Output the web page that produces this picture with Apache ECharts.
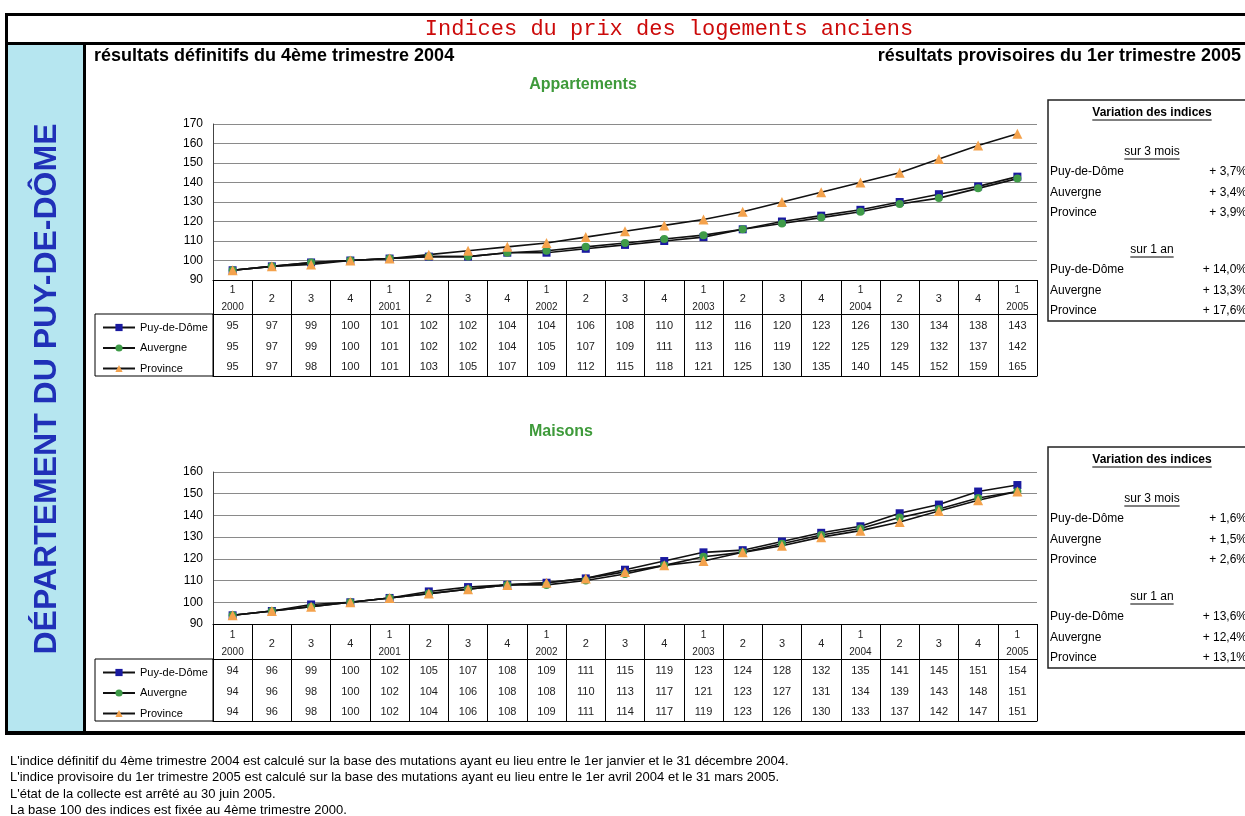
<!DOCTYPE html>
<html>
<head>
<meta charset="utf-8">
<script src="https://cdn.jsdelivr.net/npm/echarts@6/dist/echarts.min.js"></script>
<style>
  html, body { margin: 0; background: #fff; }
  #chart { width: 1245px; height: 816px; }
</style>
</head>
<body>
<div id="chart"></div>
<script>
// trimestres 2000 T1 -> 2005 T1
const periods = ['2000-1', '2000-2', '2000-3', '2000-4', '2001-1', '2001-2', '2001-3', '2001-4',
  '2002-1', '2002-2', '2002-3', '2002-4', '2003-1', '2003-2', '2003-3', '2003-4',
  '2004-1', '2004-2', '2004-3', '2004-4', '2005-1'];
const quarterNums = ['1', '2', '3', '4', '1', '2', '3', '4', '1', '2', '3', '4', '1', '2', '3', '4', '1', '2', '3', '4', '1'];
const yearLabels = ['2000', '', '', '', '2001', '', '', '', '2002', '', '', '', '2003', '', '', '', '2004', '', '', '', '2005'];

const names = ['Puy-de-Dôme', 'Auvergne', 'Province'];

// Appartements
const aptPuy = [95, 97, 99, 100, 101, 102, 102, 104, 104, 106, 108, 110, 112, 116, 120, 123, 126, 130, 134, 138, 143];
const aptAuv = [95, 97, 99, 100, 101, 102, 102, 104, 105, 107, 109, 111, 113, 116, 119, 122, 125, 129, 132, 137, 142];
const aptProv = [95, 97, 98, 100, 101, 103, 105, 107, 109, 112, 115, 118, 121, 125, 130, 135, 140, 145, 152, 159, 165];

// Maisons
const maiPuy = [94, 96, 99, 100, 102, 105, 107, 108, 109, 111, 115, 119, 123, 124, 128, 132, 135, 141, 145, 151, 154];
const maiAuv = [94, 96, 98, 100, 102, 104, 106, 108, 108, 110, 113, 117, 121, 123, 127, 131, 134, 139, 143, 148, 151];
const maiProv = [94, 96, 98, 100, 102, 104, 106, 108, 109, 111, 114, 117, 119, 123, 126, 130, 133, 137, 142, 147, 151];

// variation des indices (%)
const aptVar3 = [3.7, 3.4, 3.9];
const aptVar12 = [14.0, 13.3, 17.6];
const maiVar3 = [1.6, 1.5, 2.6];
const maiVar12 = [13.6, 12.4, 13.1];

const footnotes = [
  "L'indice définitif du 4ème trimestre 2004 est calculé sur la base des mutations ayant eu lieu entre le 1er janvier et le 31 décembre 2004.",
  "L'indice provisoire du 1er trimestre 2005 est calculé sur la base des mutations ayant eu lieu entre le 1er avril 2004 et le 31 mars 2005.",
  "L'état de la collecte est arrêté au 30 juin 2005.",
  'La base 100 des indices est fixée au 4ème trimestre 2000.'
];

const FONT = '"Liberation Sans", Arial, sans-serif';
const colors = ['#1a1aa0', '#3f9b48', '#f4a24c'];
const symbols = ['rect', 'circle', 'triangle'];
const symbolSizes = [8, 8, 10];

const measure = document.createElement('canvas').getContext('2d');
function textWidth(str, font) {
  measure.font = font;
  return measure.measureText(str).width;
}
function pct(v) {
  return '+ ' + v.toFixed(1).replace('.', ',') + '%';
}

// chart blocks: grid position + table sizes
const blocks = [
  { title: 'Appartements', titleX: 583, titleY: 85, top: 124, height: 156, max: 170, head: 34, table: 96,
    rows: [aptPuy, aptAuv, aptProv], var3: aptVar3, var12: aptVar12, box: 100 },
  { title: 'Maisons', titleX: 561, titleY: 432, top: 472, height: 152, max: 160, head: 35, table: 97,
    rows: [maiPuy, maiAuv, maiProv], var3: maiVar3, var12: maiVar12, box: 447 }
];

const grids = [], xAxes = [], yAxes = [], series = [], legends = [], graphics = [];

blocks.forEach((b, i) => {
  grids.push({ left: 213, top: b.top, width: 824, height: b.height });
  const half = b.head / 2;
  xAxes.push({
    type: 'category', gridIndex: i, data: periods, boundaryGap: true,
    axisLine: { lineStyle: { color: '#000', width: 1 } },
    axisTick: { show: true, interval: 0, length: b.table, lineStyle: { color: '#000', width: 1 } },
    axisLabel: {
      interval: 0, margin: 2, color: '#222', fontFamily: FONT,
      formatter: (value, idx) => {
        const head = yearLabels[idx]
          ? '{q|' + quarterNums[idx] + '}\n{yr|' + yearLabels[idx] + '}'
          : '{h|' + quarterNums[idx] + '}';
        return head + b.rows.map(r => '\n{v|' + r[idx] + '}').join('');
      },
      rich: {
        q: { fontSize: 10, lineHeight: half, fontFamily: FONT, color: '#222' },
        yr: { fontSize: 10, lineHeight: half, fontFamily: FONT, color: '#222' },
        h: { fontSize: 11, lineHeight: b.head, fontFamily: FONT, color: '#222' },
        v: { fontSize: 11, lineHeight: 20.5, fontFamily: FONT, color: '#222' }
      }
    },
    splitLine: { show: false }
  });
  // lignes horizontales du tableau
  [b.head, b.table].forEach(off => {
    xAxes.push({
      type: 'category', gridIndex: i, data: periods, position: 'bottom', offset: off,
      axisLine: { show: true, lineStyle: { color: '#000', width: 1 } },
      axisTick: { show: false }, axisLabel: { show: false }, splitLine: { show: false }
    });
  });
  yAxes.push({
    type: 'value', gridIndex: i, min: 90, max: b.max, interval: 10,
    axisLine: { show: true, lineStyle: { color: '#444' } },
    axisTick: { show: false },
    axisLabel: { color: '#000', fontSize: 12, margin: 10, fontFamily: FONT },
    splitLine: { lineStyle: { color: '#8a8a8a', width: 1 } }
  });
  b.rows.forEach((r, k) => {
    series.push({
      name: names[k], type: 'line', xAxisIndex: i * 3, yAxisIndex: i, data: r,
      symbol: symbols[k], symbolSize: symbolSizes[k], showAllSymbol: true,
      lineStyle: { color: '#111', width: 1.6 },
      itemStyle: { color: colors[k] },
      emphasis: { disabled: true }, animation: false
    });
  });
  const tableTop = b.top + b.height;
  legends.push({
    orient: 'vertical', left: 97, top: tableTop + b.head + 3, data: names,
    itemWidth: 32, itemHeight: 9, itemGap: 9.5, selectedMode: false,
    textStyle: { fontSize: 11, color: '#000', fontFamily: FONT }
  });
  // cadre de la légende
  graphics.push({
    type: 'rect', shape: { x: 95, y: tableTop + b.head, width: 118, height: b.table - b.head },
    style: { fill: 'none', stroke: '#000', lineWidth: 1 }
  });
  graphics.push({
    type: 'text', x: b.titleX, y: b.titleY,
    style: { text: b.title, fill: '#3e9a3a', font: 'bold 16px ' + FONT, textAlign: 'center', textVerticalAlign: 'middle' }
  });

  // encadré variation des indices
  const y0 = b.box;
  graphics.push({
    type: 'rect', shape: { x: 1048, y: y0, width: 210, height: 221 },
    style: { fill: '#fff', stroke: '#222', lineWidth: 1.5 }
  });
  const under = (txt, font, cx, cy) => {
    const w = textWidth(txt, font);
    graphics.push({ type: 'text', x: cx, y: cy, style: { text: txt, font: font, fill: '#000', textAlign: 'center', textVerticalAlign: 'middle' } });
    graphics.push({ type: 'line', shape: { x1: cx - w / 2, y1: cy + 7, x2: cx + w / 2, y2: cy + 7 }, style: { stroke: '#000', lineWidth: 1 } });
  };
  under('Variation des indices', 'bold 12px ' + FONT, 1152, y0 + 13);
  under('sur 3 mois', '12px ' + FONT, 1152, y0 + 52);
  under('sur 1 an', '12px ' + FONT, 1152, y0 + 150);
  [[b.var3, 72], [b.var12, 170]].forEach(([vals, dy]) => {
    vals.forEach((v, k) => {
      const yy = y0 + dy + k * 20.5;
      graphics.push({ type: 'text', x: 1050, y: yy, style: { text: names[k], font: '12px ' + FONT, fill: '#000', textVerticalAlign: 'middle' } });
      graphics.push({ type: 'text', x: 1247, y: yy, style: { text: pct(v), font: '12px ' + FONT, fill: '#000', textAlign: 'right', textVerticalAlign: 'middle' } });
    });
  });
});

// cadre général
graphics.unshift(
  { type: 'rect', shape: { x: 8, y: 45, width: 75, height: 686 }, style: { fill: '#b6e6f0' } },
  { type: 'rect', shape: { x: 5, y: 13, width: 1240, height: 3 }, style: { fill: '#000' } },
  { type: 'rect', shape: { x: 5, y: 42, width: 1240, height: 3 }, style: { fill: '#000' } },
  { type: 'rect', shape: { x: 5, y: 731, width: 1240, height: 4 }, style: { fill: '#000' } },
  { type: 'rect', shape: { x: 5, y: 13, width: 3, height: 722 }, style: { fill: '#000' } },
  { type: 'rect', shape: { x: 83, y: 45, width: 3, height: 686 }, style: { fill: '#000' } }
);
graphics.push(
  { type: 'text', x: 669, y: 29,
    style: { text: 'Indices du prix des logements anciens', font: '22px "Liberation Mono", monospace', fill: '#cc0a0a', textAlign: 'center', textVerticalAlign: 'middle' } },
  { type: 'text', x: 47, y: 389, rotation: Math.PI / 2,
    style: { text: 'DÉPARTEMENT DU PUY-DE-DÔME', font: 'bold 32px ' + FONT, fill: '#2030b8', textAlign: 'center', textVerticalAlign: 'middle' } },
  { type: 'text', x: 94, y: 56,
    style: { text: 'résultats définitifs du 4ème trimestre 2004', font: 'bold 18px ' + FONT, fill: '#000', textVerticalAlign: 'middle' } },
  { type: 'text', x: 1241, y: 56,
    style: { text: 'résultats provisoires du 1er trimestre 2005', font: 'bold 18px ' + FONT, fill: '#000', textAlign: 'right', textVerticalAlign: 'middle' } }
);
footnotes.forEach((t, k) => {
  graphics.push({ type: 'text', x: 10, y: 761 + k * 16.5, style: { text: t, font: '13px ' + FONT, fill: '#000', textVerticalAlign: 'middle' } });
});

const chart = echarts.init(document.getElementById('chart'), null, { renderer: 'canvas' });
chart.setOption({
  backgroundColor: '#fff',
  animation: false,
  grid: grids,
  xAxis: xAxes,
  yAxis: yAxes,
  legend: legends,
  series: series,
  graphic: { elements: graphics }
});
</script>
</body>
</html>
